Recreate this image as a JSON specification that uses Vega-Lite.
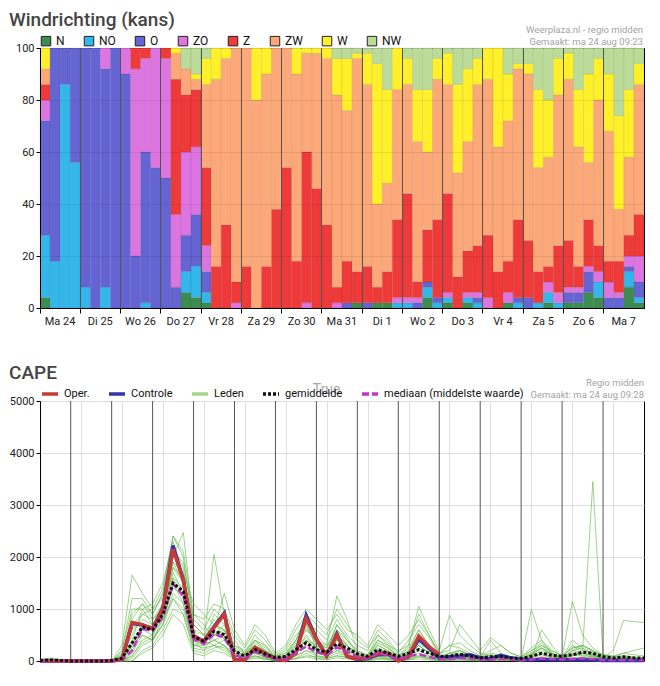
{
"$schema":"https://vega.github.io/schema/vega-lite/v6.json",
"background":"white",
"padding":{"left":8,"top":10,"right":10,"bottom":2},
"spacing":36,
"resolve":{"scale":{"color":"independent","strokeDash":"independent"},"legend":{"color":"independent","strokeDash":"independent"}},
"config":{
"font":"Roboto",
"view":{"stroke":"#000","strokeWidth":1},
"axis":{"labelFont":"Roboto","labelFontSize":11,"labelColor":"#222","domainColor":"#000","tickColor":"#000"},
"legend":{"labelFont":"Roboto","labelFontSize":12,"labelColor":"#111"},
"title":{"font":"Roboto","fontSize":19,"fontWeight":500,"color":"#444","anchor":"start","frame":"group","dx":-31,"offset":-5}
},
"vconcat":[
{
"title":"Windrichting (kans)",
"width":604,"height":260,
"data":{"values":[
{"t":0,"N":4,"NO":24,"O":44,"ZO":8,"Z":6,"ZW":6,"W":8},
{"t":1,"NO":18,"O":82},
{"t":2,"NO":86,"O":14},
{"t":3,"NO":56,"O":44},
{"t":4,"NO":8,"O":92},
{"t":5,"O":100},
{"t":6,"NO":8,"O":84,"ZO":8},
{"t":7,"O":100},
{"t":8,"O":90,"ZO":10},
{"t":9,"O":20,"ZO":72,"Z":8},
{"t":10,"NO":2,"O":58,"ZO":36,"Z":4},
{"t":11,"O":54,"ZO":46},
{"t":12,"O":50,"ZO":46,"Z":4},
{"t":13,"O":8,"ZO":28,"Z":52,"ZW":10,"W":2},
{"t":14,"N":6,"NO":8,"O":14,"ZO":32,"Z":22,"ZW":10,"NW":8},
{"t":15,"N":4,"NO":12,"O":20,"ZO":26,"Z":22,"ZW":4,"W":2,"NW":10},
{"t":16,"N":2,"NO":4,"O":8,"ZO":10,"Z":30,"ZW":32,"W":10,"NW":4},
{"t":17,"Z":16,"ZW":72,"W":12},
{"t":18,"Z":32,"ZW":64,"W":4},
{"t":19,"ZO":2,"Z":8,"ZW":90},
{"t":20,"Z":16,"ZW":84},
{"t":21,"ZW":80,"W":20},
{"t":22,"Z":16,"ZW":74,"W":10},
{"t":23,"Z":38,"ZW":62},
{"t":24,"Z":54,"ZW":46},
{"t":25,"Z":18,"ZW":72,"W":10},
{"t":26,"ZO":2,"Z":58,"ZW":38,"W":2},
{"t":27,"Z":46,"ZW":52,"W":2},
{"t":28,"Z":32,"ZW":64,"W":4},
{"t":29,"ZO":2,"Z":6,"ZW":74,"W":14,"NW":4},
{"t":30,"O":2,"Z":16,"ZW":58,"W":20,"NW":4},
{"t":31,"N":2,"Z":12,"ZW":82,"W":2,"NW":2},
{"t":32,"O":2,"Z":14,"ZW":70,"W":12,"NW":2},
{"t":33,"N":2,"Z":6,"ZW":32,"W":54,"NW":6},
{"t":34,"N":2,"Z":12,"ZW":34,"W":36,"NW":16},
{"t":35,"NO":2,"ZO":2,"Z":30,"ZW":50,"W":16},
{"t":36,"NO":2,"ZO":2,"Z":40,"ZW":42,"W":10,"NW":4},
{"t":37,"O":2,"ZO":2,"Z":6,"ZW":54,"W":20,"NW":16},
{"t":38,"N":4,"NO":4,"O":2,"Z":20,"ZW":30,"W":24,"NW":16},
{"t":39,"NO":2,"O":2,"Z":30,"ZW":54,"W":8,"NW":4},
{"t":40,"N":2,"NO":2,"ZO":2,"Z":38,"ZW":42,"W":12,"NW":2},
{"t":41,"Z":12,"ZW":40,"W":34,"NW":14},
{"t":42,"N":2,"NO":2,"ZO":2,"Z":16,"ZW":42,"W":28,"NW":8},
{"t":43,"NO":2,"O":2,"ZO":2,"Z":18,"ZW":62,"W":10,"NW":4},
{"t":44,"ZO":4,"Z":24,"ZW":60,"W":12},
{"t":45,"Z":14,"ZW":48,"W":38},
{"t":46,"N":2,"ZO":4,"Z":12,"ZW":54,"W":18,"NW":10},
{"t":47,"NO":2,"O":2,"Z":30,"ZW":58,"W":2,"NW":6},
{"t":48,"O":4,"Z":22,"ZW":64,"W":4,"NW":6},
{"t":49,"NO":2,"Z":12,"ZW":40,"W":30,"NW":16},
{"t":50,"N":2,"NO":4,"ZO":4,"Z":6,"ZW":42,"W":22,"NW":20},
{"t":51,"NO":2,"ZO":4,"Z":18,"ZW":58,"W":14,"NW":4},
{"t":52,"N":2,"O":4,"ZO":2,"Z":18,"ZW":62,"W":10,"NW":2},
{"t":53,"N":2,"O":4,"ZO":2,"Z":8,"ZW":46,"W":22,"NW":16},
{"t":54,"N":6,"O":8,"ZO":2,"Z":18,"ZW":22,"W":34,"NW":10},
{"t":55,"N":4,"NO":6,"ZO":4,"Z":10,"ZW":56,"W":16,"NW":4},
{"t":56,"O":4,"ZO":6,"Z":8,"ZW":50,"W":22,"NW":10},
{"t":57,"O":4,"ZO":2,"Z":12,"ZW":20,"W":36,"NW":26},
{"t":58,"N":8,"NO":6,"O":2,"ZO":4,"Z":8,"ZW":30,"W":26,"NW":16},
{"t":59,"N":2,"NO":2,"O":6,"ZO":10,"Z":16,"ZW":50,"W":8,"NW":6}
]},
"layer":[
{
"transform":[
{"fold":["N","NO","O","ZO","Z","ZW","W","NW"],"as":["richting","kans"]},
{"filter":"isValid(datum.kans) && datum.kans > 0"},
{"lookup":"richting","from":{"data":{"values":[{"richting":"N","volgorde":1},{"richting":"NO","volgorde":2},{"richting":"O","volgorde":3},{"richting":"ZO","volgorde":4},{"richting":"Z","volgorde":5},{"richting":"ZW","volgorde":6},{"richting":"W","volgorde":7},{"richting":"NW","volgorde":8}]},"key":"richting","fields":["volgorde"]}}
],
"mark":{"type":"bar","stroke":"#000","strokeOpacity":0.12,"strokeWidth":0.6},
"encoding":{
"x":{"field":"t","type":"ordinal","title":null,"scale":{"paddingInner":0,"paddingOuter":0},
"axis":{"values":[0,4,8,12,16,20,24,28,32,36,40,44,48,52,56],"bandPosition":0,"labelOffset":15,"labelAngle":0,"labelExpr":"['Ma 24','Di 25','Wo 26','Do 27','Vr 28','Za 29','Zo 30','Ma 31','Di 1','Wo 2','Do 3','Vr 4','Za 5','Zo 6','Ma 7'][datum.value / 4]","grid":true,"gridColor":"#555","gridWidth":1,"zindex":1,"tickSize":5,"labelPadding":2}},
"y":{"field":"kans","type":"quantitative","title":null,"stack":"zero","scale":{"domain":[0,100],"nice":false},
"axis":{"values":[0,10,20,30,40,50,60,70,80,90,100],"labelOverlap":false,"grid":true,"gridColor":"#000","gridOpacity":0.08,"zindex":1,"tickSize":4,"labelPadding":2}},
"color":{"field":"richting","type":"nominal","scale":{"domain":["N","NO","O","ZO","Z","ZW","W","NW"],"range":["#3c8d4f","#33b6ea","#6464d2","#dc75e0","#ef3a3a","#fca878","#fff02a","#bbdb98"]},
"legend":{"orient":"top","direction":"horizontal","title":null,"symbolType":"square","symbolSize":90,"symbolStrokeColor":"#222","symbolStrokeWidth":1,"labelFontSize":12,"columnPadding":17,"offset":0,"padding":0}},
"order":{"field":"volgorde","type":"quantitative"}
}
},
{
"data":{"values":[{"bron":["Weerplaza.nl - regio midden","Gemaakt: ma 24 aug 09:23"]}]},
"mark":{"type":"text","align":"right","baseline":"bottom","fontSize":9.5,"color":"#a3a3a3","lineHeight":12,"dx":4,"dy":-13},
"encoding":{"x":{"datum":59,"type":"ordinal"},"y":{"datum":100,"type":"quantitative"},"text":{"field":"bron"}}
}
]
},
{
"title":"CAPE",
"width":604,"height":260,
"data":{"values":[
{"t":"2020-08-24T06:00","Oper":0,"Controle":0,"gemiddelde":10,"mediaan":0,"m1":0,"m2":20,"m3":0,"m4":0,"m5":0,"m6":0,"m7":0,"m8":0,"m9":0,"m10":0,"m11":0,"m12":0,"m13":0,"m14":0,"m15":0,"m16":0,"m17":0,"m18":0,"m19":0,"m20":30},
{"t":"2020-08-24T12:00","Oper":0,"Controle":0,"gemiddelde":20,"mediaan":10,"m1":0,"m2":40,"m3":0,"m4":0,"m5":0,"m6":0,"m7":0,"m8":0,"m9":0,"m10":0,"m11":0,"m12":0,"m13":0,"m14":0,"m15":0,"m16":0,"m17":0,"m18":0,"m19":0,"m20":60},
{"t":"2020-08-24T18:00","Oper":0,"Controle":0,"gemiddelde":10,"mediaan":0,"m1":0,"m2":20,"m3":0,"m4":0,"m5":0,"m6":0,"m7":0,"m8":0,"m9":0,"m10":0,"m11":0,"m12":0,"m13":0,"m14":0,"m15":0,"m16":0,"m17":0,"m18":0,"m19":0,"m20":30},
{"t":"2020-08-25T00:00","Oper":0,"Controle":0,"gemiddelde":0,"mediaan":0,"m1":0,"m2":0,"m3":0,"m4":0,"m5":0,"m6":0,"m7":0,"m8":0,"m9":0,"m10":0,"m11":0,"m12":0,"m13":0,"m14":0,"m15":0,"m16":0,"m17":0,"m18":0,"m19":0,"m20":0},
{"t":"2020-08-25T06:00","Oper":0,"Controle":0,"gemiddelde":0,"mediaan":0,"m1":0,"m2":0,"m3":0,"m4":0,"m5":0,"m6":0,"m7":0,"m8":0,"m9":0,"m10":0,"m11":0,"m12":0,"m13":0,"m14":0,"m15":0,"m16":0,"m17":0,"m18":0,"m19":0,"m20":0},
{"t":"2020-08-25T12:00","Oper":0,"Controle":0,"gemiddelde":0,"mediaan":0,"m1":0,"m2":0,"m3":0,"m4":0,"m5":0,"m6":0,"m7":0,"m8":0,"m9":0,"m10":0,"m11":0,"m12":0,"m13":0,"m14":0,"m15":0,"m16":0,"m17":0,"m18":0,"m19":0,"m20":0},
{"t":"2020-08-25T18:00","Oper":0,"Controle":0,"gemiddelde":0,"mediaan":0,"m1":0,"m2":0,"m3":0,"m4":0,"m5":0,"m6":0,"m7":0,"m8":0,"m9":0,"m10":0,"m11":0,"m12":0,"m13":0,"m14":0,"m15":0,"m16":0,"m17":0,"m18":0,"m19":0,"m20":0},
{"t":"2020-08-26T00:00","Oper":0,"Controle":0,"gemiddelde":10,"mediaan":0,"m1":0,"m2":0,"m3":0,"m4":0,"m5":0,"m6":0,"m7":0,"m8":0,"m9":0,"m10":0,"m11":0,"m12":0,"m13":0,"m14":0,"m15":0,"m16":0,"m17":0,"m18":0,"m19":0,"m20":0},
{"t":"2020-08-26T06:00","Oper":30,"Controle":30,"gemiddelde":50,"mediaan":20,"m1":120,"m2":50,"m3":0,"m4":300,"m5":0,"m6":80,"m7":0,"m8":150,"m9":0,"m10":50,"m11":0,"m12":200,"m13":0,"m14":100,"m15":60,"m16":0,"m17":100,"m18":40,"m19":0,"m20":200},
{"t":"2020-08-26T12:00","Oper":740,"Controle":720,"gemiddelde":350,"mediaan":200,"m1":800,"m2":300,"m3":200,"m4":1650,"m5":100,"m6":500,"m7":0,"m8":600,"m9":300,"m10":400,"m11":150,"m12":1200,"m13":50,"m14":700,"m15":250,"m16":100,"m17":900,"m18":350,"m19":0,"m20":1000},
{"t":"2020-08-26T18:00","Oper":700,"Controle":690,"gemiddelde":660,"mediaan":620,"m1":1100,"m2":700,"m3":600,"m4":1300,"m5":400,"m6":900,"m7":200,"m8":800,"m9":500,"m10":1000,"m11":500,"m12":1200,"m13":300,"m14":900,"m15":600,"m16":350,"m17":1100,"m18":650,"m19":150,"m20":1000},
{"t":"2020-08-27T00:00","Oper":620,"Controle":620,"gemiddelde":600,"mediaan":580,"m1":900,"m2":600,"m3":700,"m4":1000,"m5":500,"m6":800,"m7":300,"m8":700,"m9":400,"m10":1100,"m11":400,"m12":900,"m13":400,"m14":1000,"m15":500,"m16":450,"m17":800,"m18":600,"m19":250,"m20":700},
{"t":"2020-08-27T06:00","Oper":1000,"Controle":1020,"gemiddelde":900,"mediaan":850,"m1":1300,"m2":900,"m3":1100,"m4":1200,"m5":800,"m6":1000,"m7":600,"m8":1000,"m9":700,"m10":1500,"m11":800,"m12":1300,"m13":700,"m14":1400,"m15":900,"m16":700,"m17":1100,"m18":900,"m19":500,"m20":1000},
{"t":"2020-08-27T12:00","Oper":2150,"Controle":2220,"gemiddelde":1500,"mediaan":1480,"m1":2400,"m2":1800,"m3":2200,"m4":1600,"m5":1400,"m6":1900,"m7":1000,"m8":2000,"m9":1500,"m10":2300,"m11":1200,"m12":2100,"m13":1300,"m14":2400,"m15":1600,"m16":1200,"m17":1900,"m18":1700,"m19":900,"m20":1800},
{"t":"2020-08-27T18:00","Oper":1550,"Controle":1560,"gemiddelde":1340,"mediaan":1250,"m1":2000,"m2":1500,"m3":1800,"m4":1200,"m5":1300,"m6":1700,"m7":900,"m8":2470,"m9":1100,"m10":1600,"m11":1000,"m12":1900,"m13":1100,"m14":2100,"m15":1400,"m16":900,"m17":1500,"m18":1300,"m19":700,"m20":1600},
{"t":"2020-08-28T00:00","Oper":470,"Controle":480,"gemiddelde":470,"mediaan":420,"m1":600,"m2":400,"m3":300,"m4":900,"m5":500,"m6":1100,"m7":200,"m8":700,"m9":400,"m10":600,"m11":300,"m12":800,"m13":300,"m14":900,"m15":400,"m16":250,"m17":500,"m18":500,"m19":150,"m20":700},
{"t":"2020-08-28T06:00","Oper":380,"Controle":380,"gemiddelde":380,"mediaan":330,"m1":300,"m2":350,"m3":400,"m4":700,"m5":400,"m6":900,"m7":150,"m8":500,"m9":200,"m10":500,"m11":300,"m12":600,"m13":250,"m14":800,"m15":300,"m16":200,"m17":400,"m18":350,"m19":100,"m20":500},
{"t":"2020-08-28T12:00","Oper":640,"Controle":660,"gemiddelde":570,"mediaan":520,"m1":900,"m2":500,"m3":2050,"m4":400,"m5":300,"m6":700,"m7":250,"m8":600,"m9":500,"m10":800,"m11":400,"m12":1000,"m13":300,"m14":1100,"m15":400,"m16":300,"m17":700,"m18":600,"m19":200,"m20":500},
{"t":"2020-08-28T18:00","Oper":900,"Controle":920,"gemiddelde":510,"mediaan":450,"m1":700,"m2":600,"m3":900,"m4":300,"m5":400,"m6":600,"m7":300,"m8":1300,"m9":500,"m10":400,"m11":300,"m12":800,"m13":250,"m14":1000,"m15":500,"m16":200,"m17":600,"m18":450,"m19":150,"m20":700},
{"t":"2020-08-29T00:00","Oper":20,"Controle":20,"gemiddelde":190,"mediaan":120,"m1":200,"m2":100,"m3":400,"m4":100,"m5":150,"m6":300,"m7":50,"m8":600,"m9":100,"m10":200,"m11":80,"m12":300,"m13":60,"m14":500,"m15":100,"m16":40,"m17":200,"m18":150,"m19":30,"m20":250},
{"t":"2020-08-29T06:00","Oper":20,"Controle":20,"gemiddelde":100,"mediaan":50,"m1":100,"m2":50,"m3":150,"m4":50,"m5":80,"m6":150,"m7":30,"m8":300,"m9":50,"m10":100,"m11":60,"m12":200,"m13":40,"m14":250,"m15":60,"m16":20,"m17":100,"m18":80,"m19":10,"m20":150},
{"t":"2020-08-29T12:00","Oper":260,"Controle":250,"gemiddelde":220,"mediaan":180,"m1":400,"m2":200,"m3":300,"m4":300,"m5":150,"m6":500,"m7":100,"m8":700,"m9":200,"m10":300,"m11":150,"m12":400,"m13":100,"m14":600,"m15":200,"m16":80,"m17":350,"m18":250,"m19":50,"m20":400},
{"t":"2020-08-29T18:00","Oper":150,"Controle":150,"gemiddelde":135,"mediaan":100,"m1":200,"m2":100,"m3":150,"m4":100,"m5":80,"m6":300,"m7":50,"m8":500,"m9":100,"m10":200,"m11":80,"m12":300,"m13":60,"m14":400,"m15":100,"m16":40,"m17":200,"m18":150,"m19":30,"m20":250},
{"t":"2020-08-30T00:00","Oper":40,"Controle":40,"gemiddelde":65,"mediaan":30,"m1":50,"m2":20,"m3":30,"m4":100,"m5":40,"m6":60,"m7":0,"m8":150,"m9":30,"m10":80,"m11":20,"m12":100,"m13":10,"m14":120,"m15":40,"m16":0,"m17":60,"m18":40,"m19":0,"m20":80},
{"t":"2020-08-30T06:00","Oper":10,"Controle":10,"gemiddelde":90,"mediaan":50,"m1":80,"m2":50,"m3":60,"m4":150,"m5":50,"m6":100,"m7":20,"m8":300,"m9":40,"m10":100,"m11":40,"m12":200,"m13":30,"m14":250,"m15":60,"m16":20,"m17":100,"m18":80,"m19":10,"m20":150},
{"t":"2020-08-30T12:00","Oper":150,"Controle":160,"gemiddelde":220,"mediaan":160,"m1":300,"m2":150,"m3":200,"m4":400,"m5":100,"m6":300,"m7":50,"m8":700,"m9":200,"m10":400,"m11":150,"m12":500,"m13":100,"m14":600,"m15":200,"m16":60,"m17":350,"m18":250,"m19":40,"m20":400},
{"t":"2020-08-30T18:00","Oper":820,"Controle":880,"gemiddelde":350,"mediaan":280,"m1":700,"m2":400,"m3":500,"m4":900,"m5":200,"m6":600,"m7":100,"m8":1000,"m9":400,"m10":800,"m11":300,"m12":700,"m13":200,"m14":900,"m15":400,"m16":150,"m17":600,"m18":450,"m19":80,"m20":650},
{"t":"2020-08-31T00:00","Oper":420,"Controle":420,"gemiddelde":220,"mediaan":170,"m1":300,"m2":200,"m3":250,"m4":500,"m5":150,"m6":400,"m7":80,"m8":800,"m9":300,"m10":200,"m11":100,"m12":600,"m13":100,"m14":700,"m15":200,"m16":50,"m17":400,"m18":250,"m19":40,"m20":350},
{"t":"2020-08-31T06:00","Oper":100,"Controle":100,"gemiddelde":170,"mediaan":120,"m1":200,"m2":100,"m3":150,"m4":300,"m5":100,"m6":250,"m7":50,"m8":600,"m9":150,"m10":100,"m11":80,"m12":400,"m13":60,"m14":500,"m15":150,"m16":40,"m17":300,"m18":150,"m19":20,"m20":250},
{"t":"2020-08-31T12:00","Oper":500,"Controle":520,"gemiddelde":330,"mediaan":260,"m1":500,"m2":300,"m3":700,"m4":1250,"m5":200,"m6":600,"m7":100,"m8":900,"m9":400,"m10":400,"m11":200,"m12":800,"m13":150,"m14":1000,"m15":300,"m16":100,"m17":600,"m18":500,"m19":60,"m20":700},
{"t":"2020-08-31T18:00","Oper":90,"Controle":90,"gemiddelde":250,"mediaan":180,"m1":300,"m2":200,"m3":400,"m4":800,"m5":150,"m6":300,"m7":80,"m8":600,"m9":250,"m10":300,"m11":100,"m12":500,"m13":100,"m14":700,"m15":200,"m16":60,"m17":400,"m18":300,"m19":40,"m20":450},
{"t":"2020-09-01T00:00","Oper":40,"Controle":30,"gemiddelde":140,"mediaan":90,"m1":100,"m2":80,"m3":150,"m4":200,"m5":60,"m6":150,"m7":20,"m8":500,"m9":80,"m10":100,"m11":50,"m12":300,"m13":30,"m14":400,"m15":100,"m16":20,"m17":200,"m18":120,"m19":10,"m20":150},
{"t":"2020-09-01T06:00","Oper":60,"Controle":50,"gemiddelde":90,"mediaan":50,"m1":50,"m2":40,"m3":80,"m4":100,"m5":40,"m6":100,"m7":10,"m8":300,"m9":50,"m10":60,"m11":30,"m12":200,"m13":20,"m14":250,"m15":60,"m16":10,"m17":120,"m18":60,"m19":0,"m20":80},
{"t":"2020-09-01T12:00","Oper":140,"Controle":120,"gemiddelde":220,"mediaan":160,"m1":300,"m2":200,"m3":400,"m4":500,"m5":100,"m6":300,"m7":50,"m8":700,"m9":200,"m10":200,"m11":100,"m12":600,"m13":80,"m14":500,"m15":200,"m16":60,"m17":400,"m18":250,"m19":30,"m20":350},
{"t":"2020-09-01T18:00","Oper":155,"Controle":130,"gemiddelde":150,"mediaan":100,"m1":200,"m2":100,"m3":300,"m4":350,"m5":80,"m6":200,"m7":30,"m8":500,"m9":100,"m10":150,"m11":60,"m12":400,"m13":50,"m14":300,"m15":150,"m16":40,"m17":250,"m18":150,"m19":20,"m20":250},
{"t":"2020-09-02T00:00","Oper":0,"Controle":10,"gemiddelde":90,"mediaan":40,"m1":50,"m2":20,"m3":40,"m4":100,"m5":30,"m6":80,"m7":10,"m8":300,"m9":30,"m10":50,"m11":20,"m12":150,"m13":20,"m14":200,"m15":40,"m16":10,"m17":80,"m18":60,"m19":0,"m20":100},
{"t":"2020-09-02T06:00","Oper":90,"Controle":80,"gemiddelde":150,"mediaan":90,"m1":200,"m2":100,"m3":150,"m4":300,"m5":80,"m6":150,"m7":30,"m8":500,"m9":100,"m10":150,"m11":60,"m12":400,"m13":50,"m14":300,"m15":120,"m16":30,"m17":200,"m18":150,"m19":20,"m20":250},
{"t":"2020-09-02T12:00","Oper":480,"Controle":420,"gemiddelde":220,"mediaan":130,"m1":600,"m2":300,"m3":500,"m4":1050,"m5":200,"m6":400,"m7":80,"m8":800,"m9":300,"m10":400,"m11":150,"m12":700,"m13":100,"m14":900,"m15":300,"m16":80,"m17":500,"m18":350,"m19":40,"m20":600},
{"t":"2020-09-02T18:00","Oper":280,"Controle":250,"gemiddelde":150,"mediaan":80,"m1":300,"m2":150,"m3":250,"m4":600,"m5":100,"m6":200,"m7":40,"m8":500,"m9":150,"m10":200,"m11":80,"m12":450,"m13":60,"m14":500,"m15":150,"m16":50,"m17":300,"m18":200,"m19":20,"m20":300},
{"t":"2020-09-03T00:00","Oper":120,"Controle":60,"gemiddelde":90,"mediaan":40,"m1":60,"m2":40,"m3":60,"m4":200,"m5":30,"m6":50,"m7":10,"m8":150,"m9":60,"m10":50,"m11":20,"m12":120,"m13":20,"m14":150,"m15":40,"m16":10,"m17":80,"m18":60,"m19":0,"m20":80},
{"t":"2020-09-03T06:00","Controle":80,"gemiddelde":90,"mediaan":40,"m1":40,"m2":20,"m3":100,"m4":880,"m5":20,"m6":150,"m7":10,"m8":300,"m9":100,"m10":60,"m11":40,"m12":300,"m13":30,"m14":200,"m15":80,"m16":20,"m17":150,"m18":80,"m19":10,"m20":150},
{"t":"2020-09-03T12:00","Controle":90,"gemiddelde":130,"mediaan":60,"m1":100,"m2":60,"m3":200,"m4":500,"m5":60,"m6":120,"m7":20,"m8":350,"m9":150,"m10":120,"m11":60,"m12":250,"m13":50,"m14":700,"m15":100,"m16":40,"m17":200,"m18":120,"m19":20,"m20":200},
{"t":"2020-09-03T18:00","Controle":120,"gemiddelde":100,"mediaan":50,"m1":60,"m2":50,"m3":100,"m4":300,"m5":40,"m6":80,"m7":10,"m8":200,"m9":80,"m10":60,"m11":40,"m12":150,"m13":30,"m14":450,"m15":60,"m16":20,"m17":120,"m18":80,"m19":10,"m20":120},
{"t":"2020-09-04T00:00","Controle":60,"gemiddelde":60,"mediaan":30,"m1":40,"m2":30,"m3":50,"m4":150,"m5":20,"m6":60,"m7":10,"m8":100,"m9":50,"m10":40,"m11":20,"m12":80,"m13":20,"m14":200,"m15":40,"m16":10,"m17":60,"m18":50,"m19":0,"m20":60},
{"t":"2020-09-04T06:00","Controle":40,"gemiddelde":80,"mediaan":30,"m1":60,"m2":40,"m3":80,"m4":100,"m5":30,"m6":120,"m7":10,"m8":200,"m9":60,"m10":50,"m11":30,"m12":150,"m13":30,"m14":450,"m15":50,"m16":20,"m17":100,"m18":60,"m19":10,"m20":400},
{"t":"2020-09-04T12:00","Controle":110,"gemiddelde":90,"mediaan":40,"m1":80,"m2":50,"m3":60,"m4":80,"m5":40,"m6":100,"m7":20,"m8":300,"m9":100,"m10":60,"m11":40,"m12":120,"m13":30,"m14":300,"m15":60,"m16":20,"m17":80,"m18":70,"m19":10,"m20":150},
{"t":"2020-09-04T18:00","Controle":60,"gemiddelde":60,"mediaan":30,"m1":40,"m2":30,"m3":50,"m4":60,"m5":20,"m6":60,"m7":10,"m8":150,"m9":60,"m10":40,"m11":20,"m12":80,"m13":20,"m14":150,"m15":40,"m16":10,"m17":60,"m18":40,"m19":10,"m20":80},
{"t":"2020-09-05T00:00","Controle":30,"gemiddelde":50,"mediaan":20,"m1":20,"m2":20,"m3":40,"m4":40,"m5":10,"m6":40,"m7":0,"m8":80,"m9":30,"m10":30,"m11":10,"m12":60,"m13":10,"m14":80,"m15":30,"m16":10,"m17":50,"m18":30,"m19":0,"m20":50},
{"t":"2020-09-05T06:00","Controle":20,"gemiddelde":90,"mediaan":30,"m1":80,"m2":40,"m3":120,"m4":150,"m5":30,"m6":990,"m7":10,"m8":250,"m9":100,"m10":60,"m11":30,"m12":200,"m13":30,"m14":200,"m15":60,"m16":20,"m17":150,"m18":80,"m19":10,"m20":120},
{"t":"2020-09-05T12:00","Controle":30,"gemiddelde":150,"mediaan":50,"m1":150,"m2":80,"m3":250,"m4":300,"m5":40,"m6":400,"m7":20,"m8":400,"m9":200,"m10":120,"m11":60,"m12":350,"m13":50,"m14":300,"m15":600,"m16":40,"m17":250,"m18":150,"m19":20,"m20":250},
{"t":"2020-09-05T18:00","Controle":20,"gemiddelde":110,"mediaan":40,"m1":80,"m2":50,"m3":120,"m4":150,"m5":30,"m6":150,"m7":10,"m8":200,"m9":120,"m10":60,"m11":30,"m12":150,"m13":30,"m14":200,"m15":300,"m16":20,"m17":150,"m18":80,"m19":10,"m20":120},
{"t":"2020-09-06T00:00","Controle":30,"gemiddelde":90,"mediaan":30,"m1":40,"m2":30,"m3":50,"m4":60,"m5":10,"m6":60,"m7":10,"m8":100,"m9":60,"m10":40,"m11":20,"m12":80,"m13":20,"m14":100,"m15":60,"m16":10,"m17":60,"m18":50,"m19":0,"m20":60},
{"t":"2020-09-06T06:00","Controle":20,"gemiddelde":120,"mediaan":40,"m1":100,"m2":60,"m3":200,"m4":300,"m5":40,"m6":200,"m7":20,"m8":250,"m9":150,"m10":100,"m11":40,"m12":1150,"m13":40,"m14":250,"m15":120,"m16":30,"m17":200,"m18":120,"m19":10,"m20":400},
{"t":"2020-09-06T12:00","Controle":20,"gemiddelde":170,"mediaan":50,"m1":120,"m2":80,"m3":250,"m4":200,"m5":60,"m6":150,"m7":30,"m8":300,"m9":100,"m10":200,"m11":60,"m12":500,"m13":50,"m14":300,"m15":150,"m16":40,"m17":300,"m18":150,"m19":20,"m20":250},
{"t":"2020-09-06T18:00","Controle":20,"gemiddelde":150,"mediaan":40,"m1":80,"m2":50,"m3":120,"m4":150,"m5":40,"m6":120,"m7":20,"m8":200,"m9":80,"m10":3450,"m11":40,"m12":250,"m13":30,"m14":200,"m15":100,"m16":30,"m17":180,"m18":100,"m19":10,"m20":150},
{"t":"2020-09-07T00:00","Controle":10,"gemiddelde":80,"mediaan":20,"m1":40,"m2":30,"m3":50,"m4":60,"m5":20,"m6":50,"m7":10,"m8":100,"m9":60,"m10":100,"m11":20,"m12":120,"m13":20,"m14":120,"m15":50,"m16":10,"m17":80,"m18":50,"m19":0,"m20":60},
{"t":"2020-09-07T06:00","Controle":10,"gemiddelde":60,"mediaan":20,"m1":20,"m2":20,"m3":30,"m4":40,"m5":10,"m6":40,"m7":10,"m8":80,"m9":200,"m10":40,"m11":10,"m12":80,"m13":10,"m14":100,"m15":40,"m16":10,"m17":60,"m18":40,"m19":0,"m20":50},
{"t":"2020-09-07T12:00","Controle":10,"gemiddelde":80,"mediaan":20,"m1":30,"m2":20,"m3":60,"m4":60,"m5":20,"m6":60,"m7":10,"m8":150,"m9":780,"m10":50,"m11":20,"m12":100,"m13":20,"m14":150,"m15":50,"m16":10,"m17":80,"m18":50,"m19":10,"m20":80},
{"t":"2020-09-07T18:00","Controle":10,"gemiddelde":60,"mediaan":20,"m1":20,"m2":20,"m3":50,"m4":50,"m5":10,"m6":50,"m7":10,"m8":200,"m9":760,"m10":40,"m11":10,"m12":80,"m13":10,"m14":120,"m15":40,"m16":10,"m17":60,"m18":40,"m19":0,"m20":60},
{"t":"2020-09-08T00:00","Controle":10,"gemiddelde":60,"mediaan":20,"m1":20,"m2":10,"m3":30,"m4":40,"m5":10,"m6":40,"m7":10,"m8":250,"m9":740,"m10":30,"m11":10,"m12":60,"m13":10,"m14":100,"m15":30,"m16":10,"m17":50,"m18":30,"m19":0,"m20":50}
]},
"layer":[
{
"transform":[{"fold":["m1","m2","m3","m4","m5","m6","m7","m8","m9","m10","m11","m12","m13","m14","m15","m16","m17","m18","m19","m20"],"as":["lid","v"]}],
"mark":{"type":"line","color":"#5cb83d","strokeWidth":1,"opacity":0.6},
"encoding":{
"x":{"field":"t","type":"temporal","title":null,"scale":{"domain":[{"year":2020,"month":8,"date":24,"hours":6},{"year":2020,"month":9,"date":8,"hours":0}]},
"axis":{"values":[
{"year":2020,"month":8,"date":24,"hours":6},{"year":2020,"month":8,"date":24,"hours":12},{"year":2020,"month":8,"date":24,"hours":18},
{"year":2020,"month":8,"date":25,"hours":0},{"year":2020,"month":8,"date":25,"hours":6},{"year":2020,"month":8,"date":25,"hours":12},{"year":2020,"month":8,"date":25,"hours":18},
{"year":2020,"month":8,"date":26,"hours":0},{"year":2020,"month":8,"date":26,"hours":6},{"year":2020,"month":8,"date":26,"hours":12},{"year":2020,"month":8,"date":26,"hours":18},
{"year":2020,"month":8,"date":27,"hours":0},{"year":2020,"month":8,"date":27,"hours":6},{"year":2020,"month":8,"date":27,"hours":12},{"year":2020,"month":8,"date":27,"hours":18},
{"year":2020,"month":8,"date":28,"hours":0},{"year":2020,"month":8,"date":28,"hours":6},{"year":2020,"month":8,"date":28,"hours":12},{"year":2020,"month":8,"date":28,"hours":18},
{"year":2020,"month":8,"date":29,"hours":0},{"year":2020,"month":8,"date":29,"hours":6},{"year":2020,"month":8,"date":29,"hours":12},{"year":2020,"month":8,"date":29,"hours":18},
{"year":2020,"month":8,"date":30,"hours":0},{"year":2020,"month":8,"date":30,"hours":6},{"year":2020,"month":8,"date":30,"hours":12},{"year":2020,"month":8,"date":30,"hours":18},
{"year":2020,"month":8,"date":31,"hours":0},{"year":2020,"month":8,"date":31,"hours":6},{"year":2020,"month":8,"date":31,"hours":12},{"year":2020,"month":8,"date":31,"hours":18},
{"year":2020,"month":9,"date":1,"hours":0},{"year":2020,"month":9,"date":1,"hours":6},{"year":2020,"month":9,"date":1,"hours":12},{"year":2020,"month":9,"date":1,"hours":18},
{"year":2020,"month":9,"date":2,"hours":0},{"year":2020,"month":9,"date":2,"hours":6},{"year":2020,"month":9,"date":2,"hours":12},{"year":2020,"month":9,"date":2,"hours":18},
{"year":2020,"month":9,"date":3,"hours":0},{"year":2020,"month":9,"date":3,"hours":6},{"year":2020,"month":9,"date":3,"hours":12},{"year":2020,"month":9,"date":3,"hours":18},
{"year":2020,"month":9,"date":4,"hours":0},{"year":2020,"month":9,"date":4,"hours":6},{"year":2020,"month":9,"date":4,"hours":12},{"year":2020,"month":9,"date":4,"hours":18},
{"year":2020,"month":9,"date":5,"hours":0},{"year":2020,"month":9,"date":5,"hours":6},{"year":2020,"month":9,"date":5,"hours":12},{"year":2020,"month":9,"date":5,"hours":18},
{"year":2020,"month":9,"date":6,"hours":0},{"year":2020,"month":9,"date":6,"hours":6},{"year":2020,"month":9,"date":6,"hours":12},{"year":2020,"month":9,"date":6,"hours":18},
{"year":2020,"month":9,"date":7,"hours":0},{"year":2020,"month":9,"date":7,"hours":6},{"year":2020,"month":9,"date":7,"hours":12},{"year":2020,"month":9,"date":7,"hours":18}
],"grid":true,"gridColor":"#dddddd","ticks":false,"labelExpr":"hours(datum.value) == 12 ? ['Zo','Ma','Di','Wo','Do','Vr','Za'][day(datum.value)] + ' ' + date(datum.value) : ''","labelOverlap":false,"labelFlush":false,"labelPadding":5}},
"y":{"field":"v","type":"quantitative","title":null,"scale":{"domain":[0,5000],"nice":false},
"axis":{"values":[0,500,1000,1500,2000,2500,3000,3500,4000,4500,5000],"format":"d","labelOverlap":false,"grid":true,"gridColor":"#dddddd","tickSize":4,"labelPadding":2}},
"detail":{"field":"lid","type":"nominal"}
}
},
{
"data":{"values":[{"dag":"2020-08-25T00:00"},{"dag":"2020-08-26T00:00"},{"dag":"2020-08-27T00:00"},{"dag":"2020-08-28T00:00"},{"dag":"2020-08-29T00:00"},{"dag":"2020-08-30T00:00"},{"dag":"2020-08-31T00:00"},{"dag":"2020-09-01T00:00"},{"dag":"2020-09-02T00:00"},{"dag":"2020-09-03T00:00"},{"dag":"2020-09-04T00:00"},{"dag":"2020-09-05T00:00"},{"dag":"2020-09-06T00:00"},{"dag":"2020-09-07T00:00"}]},
"mark":{"type":"rule","color":"#555555","strokeWidth":1},
"encoding":{"x":{"field":"dag","type":"temporal","title":null}}
},
{
"transform":[{"fold":["Controle"],"as":["reeks","v"]}],
"mark":{"type":"line","strokeWidth":3.5},
"encoding":{
"x":{"field":"t","type":"temporal","title":null},
"y":{"field":"v","type":"quantitative","title":null},
"color":{"field":"reeks","type":"nominal","scale":{"domain":["Oper","Controle","Leden","gemiddelde","mediaan"],"range":["#c83a3a","#3434a6","#a6d68c","#111111","#c236c6"]},
"legend":{"orient":"top","direction":"horizontal","title":null,"symbolType":"stroke","symbolSize":256,"symbolStrokeWidth":3.5,"labelFontSize":11,"labelOffset":4,"columnPadding":12,"offset":0,"padding":0,"labelExpr":"datum.label == 'Oper' ? 'Oper.' : datum.label == 'mediaan' ? 'mediaan (middelste waarde)' : datum.label"}},
"strokeDash":{"field":"reeks","type":"nominal","scale":{"domain":["Oper","Controle","Leden","gemiddelde","mediaan"],"range":[[1,0],[1,0],[1,0],[3,2],[7,3]]},
"legend":{"orient":"top","direction":"horizontal","title":null,"symbolType":"stroke","symbolSize":256,"symbolStrokeWidth":3.5,"labelFontSize":11,"labelOffset":4,"columnPadding":12,"offset":0,"padding":0,"labelExpr":"datum.label == 'Oper' ? 'Oper.' : datum.label == 'mediaan' ? 'mediaan (middelste waarde)' : datum.label"}}
}
},
{
"transform":[{"fold":["Oper"],"as":["reeks","v"]},{"filter":"isValid(datum.v)"}],
"mark":{"type":"line","strokeWidth":3.5},
"encoding":{"x":{"field":"t","type":"temporal","title":null},"y":{"field":"v","type":"quantitative","title":null},"color":{"field":"reeks","type":"nominal"},"strokeDash":{"field":"reeks","type":"nominal"}}
},
{
"transform":[{"fold":["mediaan"],"as":["reeks","v"]}],
"mark":{"type":"line","strokeWidth":2.5},
"encoding":{"x":{"field":"t","type":"temporal","title":null},"y":{"field":"v","type":"quantitative","title":null},"color":{"field":"reeks","type":"nominal"},"strokeDash":{"field":"reeks","type":"nominal"}}
},
{
"transform":[{"fold":["gemiddelde"],"as":["reeks","v"]}],
"mark":{"type":"line","strokeWidth":3},
"encoding":{"x":{"field":"t","type":"temporal","title":null},"y":{"field":"v","type":"quantitative","title":null},"color":{"field":"reeks","type":"nominal"},"strokeDash":{"field":"reeks","type":"nominal"}}
},
{
"data":{"values":[{"bron":["Regio midden","Gemaakt: ma 24 aug 09:28"]}]},
"mark":{"type":"text","align":"right","baseline":"bottom","fontSize":9.5,"color":"#a3a3a3","lineHeight":12,"dy":-13},
"encoding":{"x":{"datum":{"year":2020,"month":9,"date":8,"hours":0},"type":"temporal"},"y":{"datum":5000,"type":"quantitative"},"text":{"field":"bron"}}
},
{
"data":{"values":[{"label":"True"}]},
"mark":{"type":"text","align":"center","baseline":"bottom","fontSize":14,"color":"#a8a8a8","dy":-4},
"encoding":{"x":{"datum":{"year":2020,"month":8,"date":31,"hours":6},"type":"temporal"},"y":{"datum":5000,"type":"quantitative"},"text":{"field":"label"}}
}
]
}
]
}
